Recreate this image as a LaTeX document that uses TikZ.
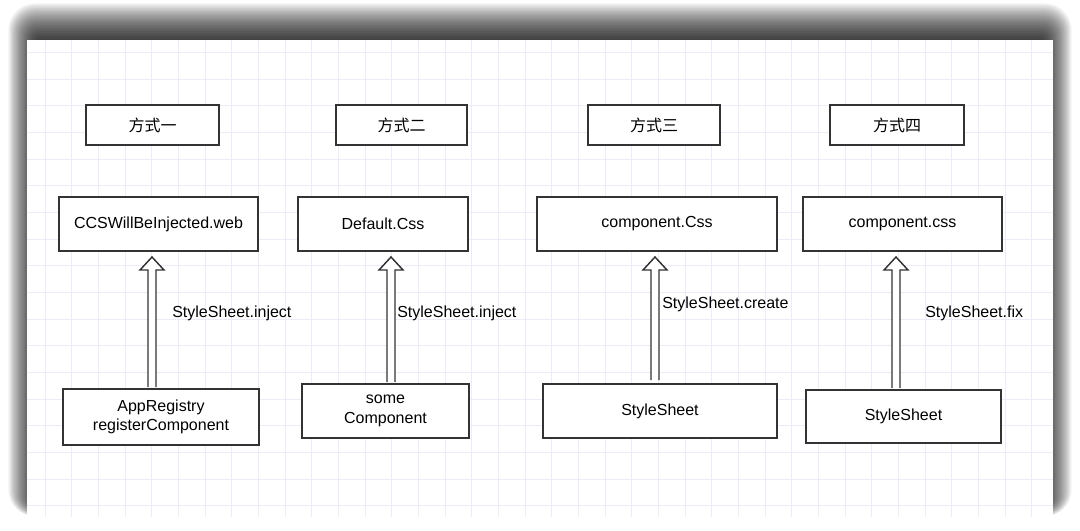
\documentclass[tikz,border=0pt]{standalone}
\usepackage{fontspec}
\setmainfont{Liberation Sans}
\newfontfamily\cjk{Noto Sans CJK SC}
\usetikzlibrary{calc}
\definecolor{edgec}{HTML}{333333}
\definecolor{gridc}{HTML}{ECEBF8}
\tikzset{
  box/.style={draw=edgec, line width=1.5pt, fill=white, inner sep=0pt, align=center, font=\fontsize{12pt}{14.5pt}\selectfont},
  lbl/.style={anchor=west, inner sep=0pt, font=\fontsize{12pt}{14.5pt}\selectfont},
  harrow/.style={draw=edgec, line width=1.1pt, fill=white, line join=miter},
  gridline/.style={draw=gridc, line width=0.6pt},
  shadowlayer/.style={fill=black, fill opacity=0.05},
}
\newcommand{\hollowconn}[4]{% #1 x-coord, #2 source, #3 target, #4 source gap
  \draw[harrow] ($(#1 |- #2.north)+(-4,#4)$) -- ($(#1 |- #3.south)+(-4,18)$) -- ($(#1 |- #3.south)+(-12,18)$) -- ($(#1 |- #3.south)+(0,5)$) -- ($(#1 |- #3.south)+(12,18)$) -- ($(#1 |- #3.south)+(4,18)$) -- ($(#1 |- #2.north)+(4,#4)$);
}
\begin{document}
\begin{tikzpicture}[x=0.75pt,y=-0.75pt]
\useasboundingbox (0,0) rectangle (1080,531);
\fill[white] (0,0) rectangle (1080,531);
% soft shadow behind the card (offset upward)
\foreach \k in {0,...,23} {
  \fill[shadowlayer, rounded corners={(\k+4)*0.75pt}] ({36-1.2*\k},{39-1.55*\k}) rectangle ({1044+1.2*\k},{505+0.5*\k});
}
% card
\fill[white] (27,40) rectangle (1053,517);
\begin{scope}
\clip (27,40) rectangle (1053,517);
\foreach \i in {0,...,40} { \draw[gridline] ({18.3+26.67*\i},40) -- ({18.3+26.67*\i},517); }
\foreach \j in {0,...,19} { \draw[gridline] (27,{25.7+26.67*\j}) -- (1053,{25.7+26.67*\j}); }
\end{scope}
% title boxes
\node[box, minimum width=133*0.75pt, minimum height=40*0.75pt] (t1) at (152.5,125) {\cjk 方式一};
\node[box, minimum width=131*0.75pt, minimum height=40*0.75pt] (t2) at (401.5,125) {\cjk 方式二};
\node[box, minimum width=132*0.75pt, minimum height=40*0.75pt] (t3) at (654,125) {\cjk 方式三};
\node[box, minimum width=134*0.75pt, minimum height=40*0.75pt] (t4) at (897,125) {\cjk 方式四};
% target boxes
\node[box, minimum width=199*0.75pt, minimum height=54*0.75pt] (c1) at (158.5,224) {CCSWillBeInjected.web};
\node[box, minimum width=170*0.75pt, minimum height=54*0.75pt] (c2) at (383,224) {Default.Css};
\node[box, minimum width=240*0.75pt, minimum height=54*0.75pt] (c3) at (657,224) {component.Css};
\node[box, minimum width=199*0.75pt, minimum height=54*0.75pt] (c4) at (902.5,224) {component.css};
% source boxes
\node[box, minimum width=196*0.75pt, minimum height=56*0.75pt] (s1) at (161,417) {AppRegistry\\registerComponent};
\node[box, minimum width=167*0.75pt, minimum height=54*0.75pt] (s2) at (385.5,411) {some\\Component};
\node[box, minimum width=234*0.75pt, minimum height=54*0.75pt] (s3) at (660,411) {StyleSheet};
\node[box, minimum width=195*0.75pt, minimum height=53*0.75pt] (s4) at (903.5,416.5) {StyleSheet};
% arrow x positions
\coordinate (a1) at (152,0);
\coordinate (a2) at (391,0);
\coordinate (a3) at (655,0);
\coordinate (a4) at (896,0);
\hollowconn{a1}{s1}{c1}{-1}
\hollowconn{a2}{s2}{c2}{-1}
\hollowconn{a3}{s3}{c3}{-3}
\hollowconn{a4}{s4}{c4}{-1}
% labels
\node[lbl] (l1) at (172,313) {StyleSheet.inject};
\node[lbl] (l2) at (397,313) {StyleSheet.inject};
\node[lbl] (l3) at (662,304) {StyleSheet.create};
\node[lbl] (l4) at (925,313) {StyleSheet.fix};
\end{tikzpicture}
\end{document}
